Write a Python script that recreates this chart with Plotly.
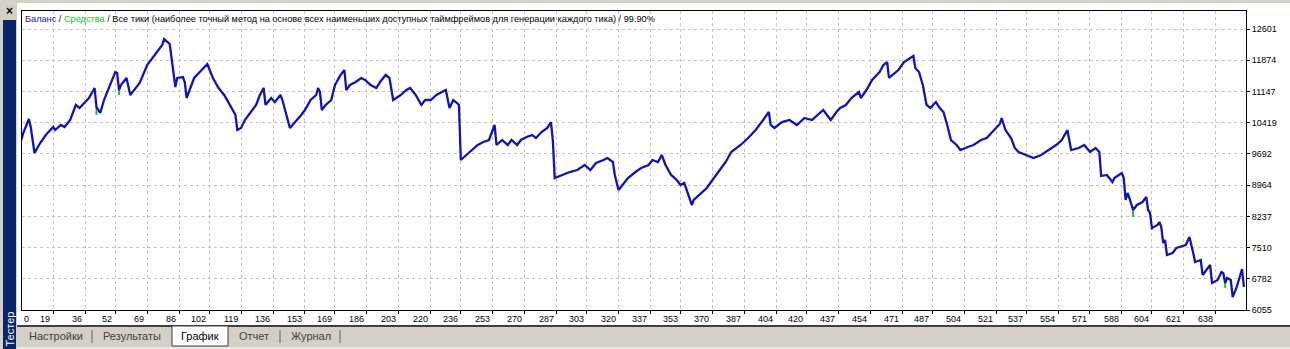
import numpy as np
import plotly.graph_objects as go

# ---------------- data ----------------
trade_no = [2, 3, 6, 7, 9, 12, 15, 19, 20, 23, 25, 28, 31, 33, 38, 41, 42, 44, 46, 49,
            52, 53, 54, 55, 58, 60, 65, 69, 73, 77, 78, 80, 81, 84, 85, 88, 89, 90, 92, 94,
            97, 101, 104, 107, 110, 113, 116, 117, 119, 121, 124, 127, 129, 131, 132, 135, 137, 140, 141, 145,
            151, 153, 156, 159, 160, 161, 162, 164, 167, 169, 172, 174, 175, 177, 180, 183, 185, 188, 191, 193,
            196, 198, 200, 204, 207, 209, 212, 215, 217, 220, 223, 225, 228, 230, 232, 234, 235, 236, 239, 242,
            245, 248, 251, 254, 255, 258, 261, 263, 266, 268, 271, 274, 276, 279, 282, 284, 285, 286, 290, 294,
            298, 302, 305, 308, 312, 314, 317, 318, 320, 322, 325, 329, 332, 336, 338, 341, 343, 345, 348, 351,
            353, 355, 357, 359, 360, 363, 367, 370, 373, 377, 380, 385, 389, 393, 397, 400, 401, 403, 407, 411,
            415, 419, 423, 426, 429, 431, 433, 436, 438, 441, 444, 446, 448, 449, 452, 455, 459, 461, 463, 464,
            466, 469, 472, 475, 477, 478, 480, 482, 484, 486, 489, 491, 493, 495, 497, 500, 502, 506, 509, 513,
            516, 520, 523, 524, 526, 529, 531, 533, 537, 541, 545, 549, 553, 556, 559, 561, 565, 568, 571, 574,
            576, 577, 580, 583, 584, 588, 589, 590, 591, 592, 594, 596, 599, 601, 602, 603, 604, 607, 608, 609,
            610, 611, 612, 615, 617, 622, 624, 626, 627, 630, 631, 633, 635, 636, 639, 641, 642, 643, 644, 646,
            647, 649, 652, 653]

balance = [10016, 10179, 10505, 10319, 9713, 9946, 10133, 10319, 10249, 10366, 10319, 10482, 10832, 10762, 10995, 11228, 10785, 10645, 10948, 11298,
           11600, 11577, 11181, 11298, 11461, 11065, 11344, 11764, 11997, 12230, 12369, 12276, 12253, 11251, 11461, 11484, 11367, 10995, 11228, 11461,
           11600, 11787, 11461, 11228, 11065, 10832, 10599, 10249, 10296, 10482, 10668, 10832, 11065, 11228, 10832, 10995, 10901, 11065, 10948, 10296,
           10599, 10715, 10948, 11065, 11228, 11134, 10715, 10832, 10948, 11298, 11531, 11647, 11181, 11298, 11367, 11461, 11414, 11298, 11228, 11367,
           11531, 11461, 10948, 11065, 11181, 11228, 11065, 10832, 10948, 10948, 11065, 11111, 11181, 10762, 10948, 10878, 10832, 9550, 9667, 9783,
           9900, 9969, 10016, 10366, 9900, 10016, 9900, 10016, 9900, 10016, 10086, 10133, 10063, 10202, 10296, 10435, 10016, 9131, 9201, 9270,
           9317, 9434, 9317, 9480, 9550, 9597, 9503, 9201, 8851, 8968, 9131, 9270, 9364, 9434, 9550, 9503, 9667, 9434, 9201, 9084,
           8968, 9014, 8735, 8502, 8618, 8735, 8898, 9084, 9270, 9503, 9736, 9900, 10063, 10249, 10482, 10668, 10366, 10296, 10435, 10482,
           10366, 10529, 10482, 10599, 10715, 10599, 10482, 10668, 10762, 10832, 10995, 11065, 11134, 10995, 11181, 11414, 11600, 11764, 11833, 11461,
           11531, 11647, 11833, 11927, 11973, 11694, 11600, 11298, 10832, 10762, 10901, 10762, 10668, 10366, 10016, 9900, 9783, 9853, 9900, 10016,
           10063, 10249, 10389, 10529, 10249, 10063, 9830, 9736, 9667, 9597, 9667, 9783, 9900, 10016, 10249, 9783, 9830, 9900, 9736, 9830,
           9736, 9177, 9201, 9037, 9131, 9247, 9131, 8618, 8781, 8665, 8385, 8502, 8571, 8688, 8385, 8315, 7966, 8036, 8105, 7989,
           7616, 7686, 7337, 7383, 7500, 7570, 7756, 7383, 7174, 7220, 6871, 6987, 7104, 6684, 6754, 6940, 6917, 6684, 6801, 6754,
           6358, 6568, 7010, 6592]

equity_dip_no = [42, 54, 594, 604, 643]
equity_dip_value = [10599, 11065, 8222, 7919, 6568]

y_tick_values = [6055, 6782, 7510, 8237, 8964, 9692, 10419, 11147, 11874, 12601]
x_tick_labels = [0, 19, 36, 52, 69, 86, 102, 119, 136, 153, 169, 186, 203, 220, 236, 253, 270, 287, 303,
                 320, 337, 353, 370, 387, 404, 420, 437, 454, 471, 487, 504, 521, 537, 554, 571, 588, 604, 621, 638]

title_parts = ["Баланс", "Средства",
               "Все тики (наиболее точный метод на основе всех наименьших доступных таймфреймов для генерации каждого тика)",
               "99.90%"]
tab_names = ["Настройки", "Результаты", "График", "Отчет", "Журнал"]
side_label = "Тестер"

# ---------------- layout geometry ----------------
W, H = 1290, 349
L, R, T, B = 22, 44, 11, 39
PW, PH = W - L - R, H - T - B
X_RANGE = [2.34, 654.1]
Y_RANGE = [6055, 13022]


def px(x):
    return (x - L) / PW


def py(y):
    return (H - B - y) / PH


FONT = "Liberation Sans, Arial, sans-serif"
BAL_COLOR = "#1414b4"
EQ_COLOR = "#22c422"
PANEL = "#d4d0c8"

fig = go.Figure()

# equity dips (vertical green segments below balance)
bal_arr = np.array(balance, dtype=float)
no_arr = np.array(trade_no, dtype=float)
eq_x, eq_y = [], []
for n, v in zip(equity_dip_no, equity_dip_value):
    b = float(np.interp(n, no_arr, bal_arr))
    eq_x += [n, n, None]
    eq_y += [b, v, None]
fig.add_trace(go.Scatter(x=eq_x, y=eq_y, mode="lines", line=dict(color=EQ_COLOR, width=2),
                         hoverinfo="skip", showlegend=False))
fig.add_trace(go.Scatter(x=trade_no, y=balance, mode="lines",
                         line=dict(color=BAL_COLOR, width=2.3), showlegend=False))

grid = dict(showgrid=True, gridcolor="#c4c4c4", griddash="3px,3px", gridwidth=1,
            showline=True, linecolor="#000000", linewidth=1, mirror=True,
            zeroline=False, ticks="outside", ticklen=3, tickcolor="#000000", tickwidth=1)

fig.update_layout(
    width=W, height=H,
    margin=dict(l=L, r=R, t=T, b=B, pad=0),
    paper_bgcolor="#ffffff", plot_bgcolor="#ffffff",
    font=dict(family=FONT, size=9, color="#000000"),
    xaxis=dict(range=X_RANGE, tickvals=x_tick_labels[1:], showticklabels=False, **grid),
    yaxis=dict(range=Y_RANGE, side="right", tickvals=y_tick_values,
               ticktext=[str(v) for v in y_tick_values], tickfont=dict(size=9, family=FONT),
               **grid),
    showlegend=False,
)

annotations = []
# x-axis labels (right-aligned to their tick, as in the terminal)
for lab in x_tick_labels:
    if lab == 0:
        annotations.append(dict(x=X_RANGE[0], y=0, xref="x", yref="paper", text=str(lab),
                                xanchor="left", yanchor="middle", xshift=0, yshift=-9,
                                showarrow=False, font=dict(size=9, family=FONT)))
    else:
        annotations.append(dict(x=lab, y=0, xref="x", yref="paper", text=str(lab),
                                xanchor="right", yanchor="middle", xshift=-1, yshift=-9,
                                showarrow=False, font=dict(size=9, family=FONT)))

# title line
title_html = (f"<span style='color:{BAL_COLOR}'>{title_parts[0]}</span> / "
              f"<span style='color:{EQ_COLOR}'>{title_parts[1]}</span> / "
              f"{title_parts[2]} / {title_parts[3]}")
annotations.append(dict(x=px(23), y=py(19), xref="paper", yref="paper", text=title_html,
                        xanchor="left", yanchor="middle", showarrow=False,
                        font=dict(size=9.2, family=FONT, color="#000000")))

shapes = []
# window chrome
shapes.append(dict(type="rect", xref="paper", yref="paper", x0=px(0), x1=px(W), y0=py(3), y1=py(0),
                   fillcolor=PANEL, line=dict(width=0), layer="above"))
shapes.append(dict(type="rect", xref="paper", yref="paper", x0=px(0), x1=px(17), y0=py(H), y1=py(0),
                   fillcolor=PANEL, line=dict(width=0), layer="above"))
shapes.append(dict(type="rect", xref="paper", yref="paper", x0=px(3), x1=px(16), y0=py(H), y1=py(20),
                   fillcolor="#0a246a", line=dict(width=0), layer="above"))
shapes.append(dict(type="rect", xref="paper", yref="paper", x0=px(17), x1=px(W), y0=py(H), y1=py(326),
                   fillcolor=PANEL, line=dict(width=0), layer="above"))
shapes.append(dict(type="line", xref="paper", yref="paper", x0=px(17), x1=px(W), y0=py(326), y1=py(326),
                   line=dict(color="#404040", width=2), layer="above"))
shapes.append(dict(type="line", xref="paper", yref="paper", x0=px(17), x1=px(W), y0=py(348), y1=py(348),
                   line=dict(color="#ffffff", width=1), layer="above"))
# selected tab
shapes.append(dict(type="rect", xref="paper", yref="paper", x0=px(172), x1=px(228), y0=py(346), y1=py(326),
                   fillcolor="#ffffff", line=dict(color="#404040", width=1), layer="above"))
# separators
for sx in [92, 280, 340]:
    shapes.append(dict(type="line", xref="paper", yref="paper", x0=px(sx), x1=px(sx), y0=py(343), y1=py(330),
                       line=dict(color="#606060", width=1), layer="above"))

tab_centers = [56, 132, 200, 254, 311]
for name, cx in zip(tab_names, tab_centers):
    annotations.append(dict(x=px(cx), y=py(336), xref="paper", yref="paper", text=name,
                            xanchor="center", yanchor="middle", showarrow=False,
                            font=dict(size=11, family=FONT,
                                      color="#000000" if name == "График" else "#404040")))

annotations.append(dict(x=px(9.5), y=py(329), xref="paper", yref="paper", text=side_label,
                        textangle=-90, xanchor="center", yanchor="middle", showarrow=False,
                        font=dict(size=11, family=FONT, color="#ffffff")))
annotations.append(dict(x=px(9), y=py(11), xref="paper", yref="paper", text="<b>×</b>",
                        xanchor="center", yanchor="middle", showarrow=False,
                        font=dict(size=12, family=FONT, color="#000000")))

fig.update_layout(annotations=annotations, shapes=shapes)
fig.write_html("out.html")
